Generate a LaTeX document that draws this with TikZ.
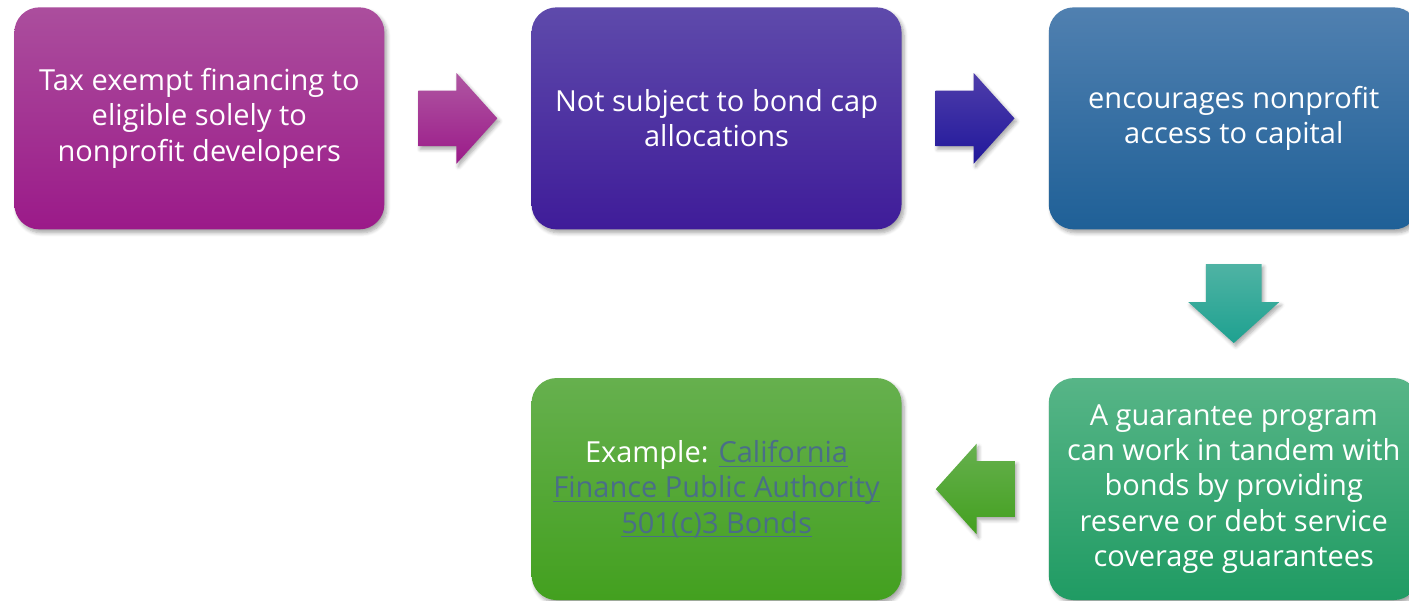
\documentclass[tikz,border=0pt]{standalone}
\usepackage{fontspec}
\setmainfont{Open Sans}
\usepackage{tikz}
\usetikzlibrary{positioning, calc, shapes.arrows, shadows.blur}

% box and arrow colours
\definecolor{plumTop}{HTML}{AB4E9D}
\definecolor{plumBot}{HTML}{9B1A89}
\definecolor{violetTop}{HTML}{5E4AAB}
\definecolor{violetBot}{HTML}{3F1C99}
\definecolor{steelTop}{HTML}{5080B0}
\definecolor{steelBot}{HTML}{1F6097}
\definecolor{jadeTop}{HTML}{57B587}
\definecolor{jadeBot}{HTML}{1F9B63}
\definecolor{leafTop}{HTML}{66B04E}
\definecolor{leafBot}{HTML}{43A01F}
\definecolor{tealTop}{HTML}{4FB3A4}
\definecolor{tealBot}{HTML}{1EA190}
\definecolor{indigoTop}{HTML}{4E3DAA}
\definecolor{indigoBot}{HTML}{21189B}
\definecolor{linkgray}{HTML}{4A6E88}

% underlined link text
\newcommand\linktext[1]{{\color{linkgray}\setbox0\hbox{#1}\rlap{\rule[-2.4pt]{\wd0}{0.7pt}}\box0}}

\begin{document}
\begin{tikzpicture}[
    box/.style={rounded corners=0.5cm, minimum width=7.4cm, minimum height=4.44cm,
        align=center, text=white, font=\fontsize{16.5}{20}\selectfont,
        blur shadow={shadow xshift=0.05cm, shadow yshift=-0.07cm, shadow blur steps=6, shadow opacity=35}},
    blockarrow/.style={single arrow, minimum height=1.58cm, minimum width=1.8cm,
        single arrow head extend=0.35cm, single arrow tip angle=96, anchor=tail,
        inner xsep=0pt, inner ysep=0.55cm,
        blur shadow={shadow xshift=0.04cm, shadow yshift=-0.06cm, shadow blur steps=5, shadow opacity=35}},
    downarrow/.style={blockarrow, shape border rotate=270, inner xsep=0.55cm, inner ysep=0pt}
]
    \useasboundingbox (0,0) rectangle (28.18,-12);

    % Steps
    \node[box, anchor=north west, top color=plumTop, bottom color=plumBot] (exempt) at (0.28,-0.14)
        {Tax exempt financing to\\eligible solely to\\nonprofit developers};
    \node[box, right=2.93cm of exempt, top color=violetTop, bottom color=violetBot] (nocap)
        {Not subject to bond cap\\allocations};
    \node[box, right=2.93cm of nocap, top color=steelTop, bottom color=steelBot] (access)
        {encourages nonprofit\\access to capital};
    \node[box, below=2.96cm of access, top color=jadeTop, bottom color=jadeBot] (guarantee)
        {A guarantee program\\can work in tandem with\\bonds by providing\\reserve or debt service\\coverage guarantees};
    \node[box, left=2.93cm of guarantee, top color=leafTop, bottom color=leafBot] (example)
        {Example: \linktext{California}\\
         \linktext{Finance Public Authority}\\
         \linktext{501(c)3 Bonds}};

    % Block arrows
    \node[blockarrow, top color=plumTop!95!white, bottom color=plumBot] (a1)
        at ($(exempt.east)!0.5!(nocap.west)+(-0.8,0)$) {};
    \node[blockarrow, top color=indigoTop, bottom color=indigoBot] (a2)
        at ($(nocap.east)!0.5!(access.west)+(-0.8,0)$) {};
    \node[downarrow, top color=tealTop, bottom color=tealBot] (a3)
        at ($(access.south)!0.5!(guarantee.north)+(0,0.8)$) {};
    \node[blockarrow, shape border rotate=180, top color=leafTop, bottom color=leafBot] (a4)
        at ($(guarantee.west)!0.5!(example.east)+(0.8,0)$) {};
\end{tikzpicture}
\end{document}
